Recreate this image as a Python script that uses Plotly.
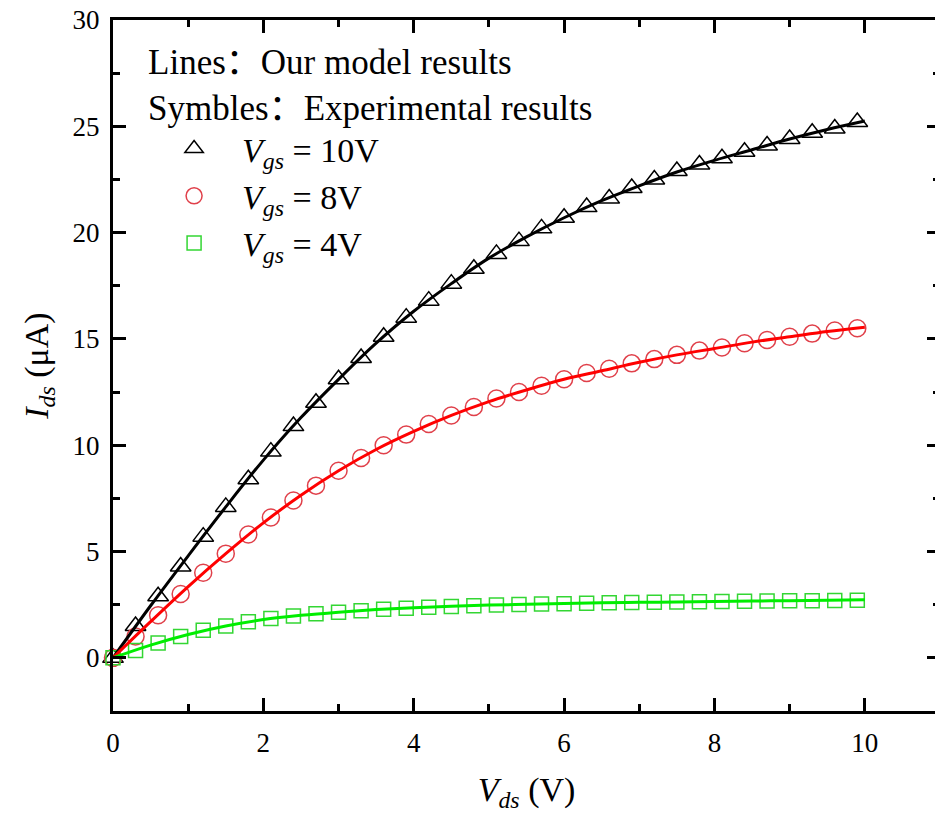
import plotly.graph_objects as go

# ---- data ----
vds_exp = [0.0, 0.3, 0.6, 0.9, 1.2, 1.5, 1.8, 2.1, 2.4, 2.7, 3.0, 3.3, 3.6, 3.9, 4.2, 4.5, 4.8,
           5.1, 5.4, 5.7, 6.0, 6.3, 6.6, 6.9, 7.2, 7.5, 7.8, 8.1, 8.4, 8.7, 9.0, 9.3, 9.6, 9.9]
ids_exp_10 = [0.0, 1.5, 2.9, 4.3, 5.7, 7.1, 8.4, 9.7, 10.9, 12.0, 13.1, 14.1, 15.1, 16.0, 16.8, 17.6, 18.3,
              19.0, 19.6, 20.2, 20.7, 21.2, 21.6, 22.1, 22.5, 22.9, 23.2, 23.5, 23.8, 24.1, 24.4, 24.7, 24.9, 25.2]
ids_exp_8 = [0.0, 1.0, 2.0, 3.0, 4.0, 4.9, 5.8, 6.6, 7.4, 8.1, 8.8, 9.4, 10.0, 10.5, 11.0, 11.4, 11.8,
             12.2, 12.5, 12.8, 13.1, 13.4, 13.6, 13.85, 14.05, 14.25, 14.45, 14.6, 14.8, 14.95, 15.1, 15.25, 15.4, 15.5]
ids_exp_4 = [0.0, 0.35, 0.7, 1.0, 1.3, 1.5, 1.7, 1.85, 1.97, 2.07, 2.15, 2.22, 2.28, 2.33, 2.38, 2.42, 2.45,
             2.48, 2.51, 2.53, 2.55, 2.57, 2.59, 2.60, 2.62, 2.63, 2.64, 2.65, 2.66, 2.67, 2.68, 2.69, 2.70, 2.71]

vds_model = [0.0, 0.5, 1.0, 1.5, 2.0, 2.5, 3.0, 3.5, 4.0, 4.5, 5.0, 5.5, 6.0, 6.5, 7.0, 7.5, 8.0, 8.5, 9.0, 9.5, 10.0]
ids_model_10 = [0.0, 2.45, 4.8, 7.1, 9.3, 11.3, 13.1, 14.8, 16.3, 17.6, 18.8, 19.8, 20.7, 21.5, 22.2, 22.85,
                23.4, 23.9, 24.4, 24.85, 25.25]
ids_model_8 = [0.0, 1.7, 3.35, 4.9, 6.35, 7.65, 8.8, 9.8, 10.65, 11.4, 12.05, 12.6, 13.1, 13.5, 13.9, 14.25,
               14.55, 14.85, 15.1, 15.35, 15.55]
ids_model_4 = [0.0, 0.6, 1.1, 1.5, 1.8, 2.0, 2.15, 2.27, 2.36, 2.43, 2.48, 2.52, 2.56, 2.59, 2.61, 2.63,
               2.65, 2.67, 2.69, 2.71, 2.73]

labels = ["<i>V</i><sub><i>gs</i></sub> = 10V",
          "<i>V</i><sub><i>gs</i></sub> = 8V",
          "<i>V</i><sub><i>gs</i></sub> = 4V"]

FONT = "Liberation Serif, Noto Sans CJK SC, serif"

fig = go.Figure()

exp_series = [ids_exp_10, ids_exp_8, ids_exp_4]
model_series = [ids_model_10, ids_model_8, ids_model_4]
symbols = ["triangle-up-open", "circle-open", "square-open"]
sizes = [18, 17, 14]
mcolors = ["#000000", "#e0404a", "#33d633"]
lcolors = ["#000000", "#ff0000", "#00ee00"]

for ys, lab, sym, sz, mc in zip(exp_series, labels, symbols, sizes, mcolors):
    fig.add_trace(go.Scatter(x=vds_exp, y=ys, mode="markers", name=lab,
                             marker=dict(symbol=sym, size=sz, color=mc, line=dict(width=1.5, color=mc)),
                             cliponaxis=False))

for ys, lc in zip(model_series, lcolors):
    fig.add_trace(go.Scatter(x=vds_model, y=ys, mode="lines", showlegend=False,
                             line=dict(color=lc, width=3, shape="spline")))

axis_common = dict(showline=True, linecolor="black", linewidth=3, mirror="ticks",
                   ticks="inside", tickcolor="black", tickwidth=2.5, ticklen=13,
                   showgrid=False, zeroline=False, automargin=False,
                   ticklabeloverflow="allow",
                   tickfont=dict(family=FONT, size=27, color="black"))

fig.update_xaxes(range=[0, 11], dtick=2, tick0=0,
                 minor=dict(dtick=1, ticks="inside", ticklen=7, tickwidth=2.5, tickcolor="black"),
                 ticklabelstandoff=6,
                 title=dict(text="<i>V</i><sub><i>ds</i></sub> (V)", font=dict(family=FONT, size=34, color="black"),
                            standoff=20),
                 **axis_common)
fig.update_yaxes(range=[-2.5, 30], dtick=5, tick0=0,
                 minor=dict(dtick=2.5, ticks="inside", ticklen=7, tickwidth=2.5, tickcolor="black"),
                 ticklabelstandoff=5,
                 title=dict(text="<i>I</i><sub><i>ds</i></sub> (μA)", font=dict(family=FONT, size=34, color="black"),
                            standoff=14),
                 **axis_common)

# the page body adds an 8px offset; margins compensate so the plot frame lands where the reference has it
fig.update_layout(
    width=943, height=815,
    margin=dict(l=105, r=11, t=12, b=112),
    plot_bgcolor="white", paper_bgcolor="white",
    font=dict(family=FONT, color="black"),
    legend=dict(
        x=0.04, y=0.987, xanchor="left", yanchor="top",
        bgcolor="rgba(0,0,0,0)",
        title=dict(text="Lines：Our model results<br>Symbles：Experimental results",
                   font=dict(family=FONT, size=35, color="black"), side="top"),
        font=dict(family=FONT, size=34, color="black"),
        itemwidth=86,
        tracegroupgap=0,
    ),
)

fig.write_html("out.html")
